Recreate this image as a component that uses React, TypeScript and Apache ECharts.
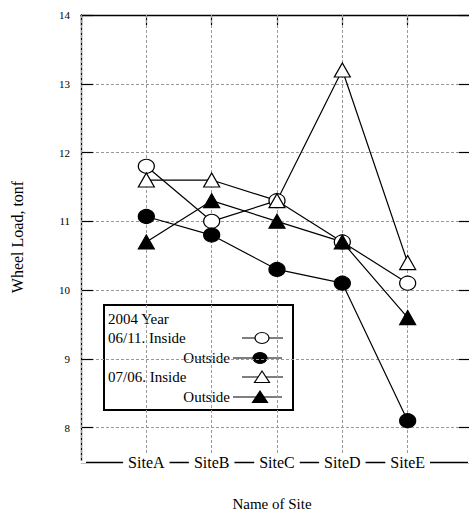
import React, { useEffect, useRef } from "react";
import * as echarts from "echarts";

const sites = ["SiteA", "SiteB", "SiteC", "SiteD", "SiteE"];
const inside0611 = [11.8, 11.0, 11.3, 10.7, 10.1];
const outside0611 = [11.07, 10.8, 10.3, 10.1, 8.1];
const inside0706 = [11.6, 11.6, 11.3, 13.2, 10.4];
const outside0706 = [10.7, 11.3, 11.0, 10.7, 9.6];
const yTickValues = [8, 9, 10, 11, 12, 13, 14];
const xTitle = "Name of Site";
const yTitle = "Wheel Load, tonf";

const FONT = "Liberation Serif";

export default function App() {
  const ref = useRef<HTMLDivElement>(null);
  useEffect(() => {
    if (!ref.current) return;
    const chart = echarts.init(ref.current, null, { renderer: "svg" });
    const toPts = (arr: number[]) => arr.map((v, i) => [i, v]);
    const lineStyle = { color: "#000", width: 1.2 };
    const mkSeries = (name: string, arr: number[], symbol: string, fill: string) => ({
      name,
      type: "line",
      data: toPts(arr),
      symbol,
      symbolSize: [16, 14],
      lineStyle,
      itemStyle: { color: fill, borderColor: "#000", borderWidth: 1.2 },
      z: 3,
    });
    const splitDash = { show: true, lineStyle: { color: "#999", type: [3, 2], width: 1 } };

    const legendTop = 305;
    const rows = [319, 338, 358, 377, 397];
    const txt = (text: string, x: number, y: number, align: string, size = 15, rotation = 0) => ({
      type: "text",
      x,
      y,
      rotation,
      style: { text, fill: "#000", font: `${size}px "${FONT}"`, textAlign: align, textVerticalAlign: "middle" },
    });
    const seg = (x1: number, x2: number, y: number) => ({
      type: "line",
      shape: { x1, y1: y, x2, y2: y },
      style: { stroke: "#000", lineWidth: 1.2 },
    });
    const ell = (cx: number, cy: number, fill: string) => ({
      type: "ellipse",
      shape: { cx, cy, rx: 7, ry: 5.5 },
      style: { fill, stroke: "#000", lineWidth: 1.2 },
    });
    const tri = (cx: number, cy: number, fill: string) => ({
      type: "polygon",
      shape: { points: [[cx - 7.5, cy + 5.5], [cx + 7.5, cy + 5.5], [cx, cy - 6]] },
      style: { fill, stroke: "#000", lineWidth: 1.2 },
    });

    chart.setOption({
      animation: false,
      grid: { left: 81, top: 15, width: 392, height: 447, outerBoundsMode: "none", containLabel: false },
      xAxis: [
        {
          type: "value",
          position: "bottom",
          min: -1,
          max: 5,
          interval: 1,
          axisLine: { show: true, onZero: false, lineStyle: { color: "#000", width: 1.3 } },
          axisTick: { show: false },
          axisLabel: {
            formatter: (v: number) => sites[v] ?? "",
            fontFamily: FONT,
            fontSize: 16,
            color: "#000",
            margin: 0,
            verticalAlign: "middle",
            backgroundColor: "#fff",
            padding: [1, 5, 1, 5],
          },
          splitLine: splitDash,
          z: 2,
        },
        {
          type: "value",
          position: "top",
          min: -1,
          max: 5,
          interval: 1,
          axisLine: { show: true, onZero: false, lineStyle: { color: "#000", width: 1.3 } },
          axisTick: { show: true, inside: true, length: 10, lineStyle: { color: "#000", width: 1.2 } },
          axisLabel: { show: false },
          splitLine: { show: false },
        },
      ],
      yAxis: [
        {
          type: "value",
          position: "left",
          min: 7.5,
          max: 14,
          axisLine: { show: true, onZero: false, lineStyle: { color: "#000", width: 1.3 } },
          axisTick: {
            show: true,
            inside: true,
            length: 12,
            lineStyle: { color: "#000", width: 1.2 },
            customValues: yTickValues,
          },
          axisLabel: {
            customValues: yTickValues,
            formatter: (v: number) => (Number.isInteger(v) ? String(v) : ""),
            fontFamily: FONT,
            fontSize: 11,
            color: "#000",
            margin: 11,
          },
          splitLine: splitDash,
        },
        {
          type: "value",
          position: "right",
          min: 7.5,
          max: 14,
          axisLine: { show: false, onZero: false },
          axisTick: {
            show: true,
            inside: true,
            length: 14,
            lineStyle: { color: "#000", width: 1.2 },
            customValues: yTickValues,
          },
          axisLabel: { show: false },
          splitLine: { show: false },
        },
      ],
      series: [
        mkSeries("06/11. Inside", inside0611, "circle", "#fff"),
        mkSeries("06/11. Outside", outside0611, "circle", "#000"),
        mkSeries("07/06. Inside", inside0706, "triangle", "#fff"),
        mkSeries("07/06. Outside", outside0706, "triangle", "#000"),
      ],
      graphic: [
        txt(xTitle, 272, 504, "center", 15),
        txt(yTitle, 17, 237, "center", 16, Math.PI / 2),
        {
          type: "group",
          z: 100,
          children: [
            {
              type: "rect",
              shape: { x: 104, y: legendTop, width: 189, height: 105 },
              style: { fill: "#fff", stroke: "#000", lineWidth: 2 },
            },
            txt("2004 Year", 108, rows[0], "left"),
            txt("06/11. Inside", 108, rows[1], "left"),
            txt("Outside", 230, rows[2], "right"),
            txt("07/06. Inside", 108, rows[3], "left"),
            txt("Outside", 230, rows[4], "right"),
            seg(242, 283, rows[1]),
            ell(262, rows[1], "#fff"),
            seg(233, 282, rows[2]),
            ell(260, rows[2], "#000"),
            seg(242, 283, rows[3]),
            tri(262, rows[3], "#fff"),
            seg(233, 282, rows[4]),
            tri(260, rows[4], "#000"),
          ],
        },
      ],
    });
    return () => chart.dispose();
  }, []);
  return (
    <div
      ref={ref}
      style={{ position: "fixed", left: 0, top: 0, width: 469, height: 513, background: "#fff" }}
    />
  );
}
